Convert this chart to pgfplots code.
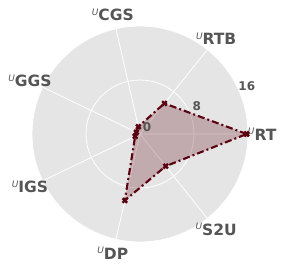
\documentclass[border=0pt]{standalone}
\usepackage{pgfplots}
\pgfplotsset{compat=1.18}
\usepgfplotslibrary{polar}
\usepackage{fontspec}
\setmainfont{DejaVu Sans}
\definecolor{bggray}{HTML}{E5E5E5}
\definecolor{txtgray}{HTML}{555555}
\definecolor{dred}{RGB}{90,0,15}
\newcommand{\lab}[1]{{\fontsize{15.5}{18}\selectfont\bfseries\raisebox{5.5pt}{\fontsize{9}{9}\selectfont\mdseries\itshape U}#1}}
\begin{document}
\begin{tikzpicture}
\begin{polaraxis}[
  scale only axis, width=216pt, height=216pt,
  ymin=0, ymax=16,
  xtick={0,51.4286,102.8571,154.2857,205.7143,257.1429,308.5714},
  ytick={0,8,16},
  xticklabels={}, yticklabels={},
  major tick length=0pt,
  axis line style={draw=none},
  axis background/.style={fill=bggray},
  xmajorgrids, ymajorgrids,
  grid style={white, line width=0.8pt},
  clip=false,
]
\addplot[draw=dred, line width=2.1pt, dash pattern=on 7pt off 3pt on 2pt off 3pt,
  fill=dred, fill opacity=0.25, draw opacity=1,
  mark=x, mark size=3.2pt, mark options={solid, line width=2.4pt, fill opacity=1}]
 coordinates {(0,15.8) (51.4286,5.8) (102.8571,1.1) (154.2857,0.6) (205.7143,0.8) (257.1429,10.1) (308.5714,6.1) (360,15.8)};
\coordinate (c) at (axis cs:0,0);
\foreach \a/\t in {0/RT,51.4286/RTB,102.8571/CGS,154.2857/GGS,205.7143/IGS,257.1429/DP,308.5714/S2U}{
  \edef\tmp{\noexpand\node[text=txtgray, anchor=center, inner sep=0pt] at (axis cs:\a,18.1) {\noexpand\lab{\t}};}
  \tmp
}
\foreach \v in {0,8,16}{
  \edef\tmp{\noexpand\node[text=txtgray, anchor=center, inner sep=0pt, xshift=7pt, yshift=7pt, font=\noexpand\fontsize{12}{14}\noexpand\selectfont\noexpand\bfseries] at (axis cs:22.5,\v) {\v};}
  \tmp
}
\end{polaraxis}
\path ([shift={(-140pt,-136pt)}]c) rectangle ([shift={(147pt,134pt)}]c);
\end{tikzpicture}
\end{document}
